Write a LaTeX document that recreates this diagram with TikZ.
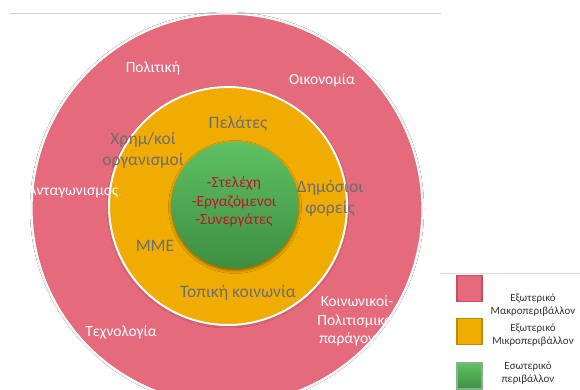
\documentclass[tikz,border=0pt]{standalone}
\usepackage{fontspec}
\setmainfont{Carlito}
\usetikzlibrary{shadows,shadows.blur}
\definecolor{macro}{HTML}{E46A7C}
\definecolor{macroedge}{HTML}{C4505F}
\definecolor{micro}{HTML}{F0AC00}
\definecolor{microedge}{HTML}{C08A00}
\definecolor{innertop}{HTML}{5EC162}
\definecolor{innerbot}{HTML}{3E8E42}
\definecolor{inneredge}{HTML}{3A7F3C}
\definecolor{greytext}{HTML}{6E6E6E}
\definecolor{staff}{HTML}{C0142C}
\definecolor{rule}{HTML}{CFCFCF}
\tikzset{
  ring/.style={circle, inner sep=0pt},
  onpink/.style={text=white, font=\fontsize{15.5}{18.5}\selectfont, align=center},
  onorange/.style={text=greytext, font=\fontsize{17.5}{20.5}\selectfont, align=center},
  staffline/.style={text=staff, font=\fontsize{15.5}{18.5}\selectfont, align=center},
  keybox/.style={minimum width=25pt, minimum height=26pt, inner sep=0pt, line width=1.2pt},
  keytext/.style={text=black!80, font=\fontsize{11}{13}\selectfont, align=center},
}
\begin{document}
\begin{tikzpicture}[x=1pt, y=-1pt]
\useasboundingbox (0,0) rectangle (580,390);
\fill[white] (0,0) rectangle (580,390);

% thin rules
\draw[rule, line width=1pt] (10,13.5) -- (441,13.5);
\draw[rule!70, line width=0.8pt] (440,273) -- (580,273);

% outer ring: external macro-environment
\node[ring, fill=macro, draw=white, line width=1.2pt, minimum size=390pt,
      blur shadow={shadow xshift=0pt, shadow yshift=0pt, shadow blur radius=2pt, shadow opacity=25}]
      (outer) at (227,209) {};
% middle ring: external micro-environment
\node[ring, fill=micro, draw=white, line width=2pt, minimum size=238pt,
      blur shadow={shadow xshift=0pt, shadow yshift=-1pt, shadow blur radius=2pt, shadow opacity=30}]
      (middle) at (228,206) {};
% core: internal environment
\node[ring, top color=innertop, bottom color=innerbot, minimum size=127pt,
      blur shadow={shadow xshift=0pt, shadow yshift=-2pt, shadow blur radius=3pt, shadow opacity=45}]
      (core) at (235,205) {};

% macro-environment factors
\node[onpink] (politics) at (153,68) {Πολιτική};
\node[onpink] (economy) at (322,80) {Οικονομία};
\node[onpink] (rivals) at (73,192) {Ανταγωνισμος};
\node[onpink] (tech) at (121,332) {Τεχνολογία};
\node[onpink] (social) at (357,321) {Κοινωνικοί-\\Πολιτισμικοί\\παράγοντες};

% micro-environment factors
\node[onorange] (clients) at (238,124) {Πελάτες};
\node[onorange] (finance) at (143,150) {Χρημ/κοί\\οργανισμοί};
\node[onorange] (public) at (330,198) {Δημόσιοι\\φορείς};
\node[onorange] (media) at (155,246) {ΜΜΕ};
\node[onorange] (local) at (238,293) {Τοπική κοινωνία};

% internal environment
\node[staffline] (staff) at (234,202) {-Στελέχη\\-Εργαζόμενοι\\-Συνεργάτες};

% key
\node[keybox, fill=macro, draw=macroedge] (keymacro) at (469.5,288.5) {};
\node[keybox, fill=micro, draw=microedge] (keymicro) at (469.5,331.5) {};
\node[keybox, top color=innertop, bottom color=innerbot, draw=inneredge!60] (keyinner) at (469.5,376) {};
\node[keytext] (keymacrotext) at (533,305) {Εξωτερικό\\Μακροπεριβάλλον};
\node[keytext] (keymicrotext) at (533,335) {Εξωτερικό\\Μικροπεριβάλλον};
\node[keytext] (keyinnertext) at (528,373.5) {Εσωτερικό\\περιβάλλον};
\end{tikzpicture}
\end{document}
